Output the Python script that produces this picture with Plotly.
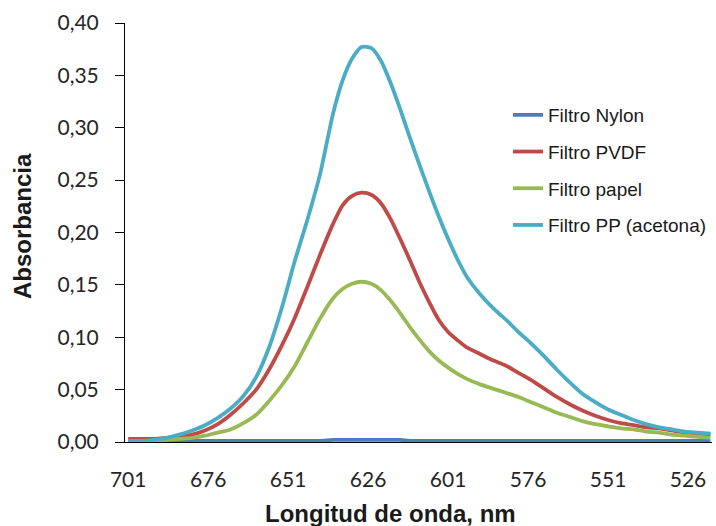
import plotly.graph_objects as go

wavelength = [701, 697, 693, 689, 685, 681, 677, 673, 669, 665, 661, 657, 653, 649, 645, 641, 637,
              634, 631, 628, 625, 622, 619, 616, 613, 610, 607, 604, 601, 598, 595,
              591, 587, 583, 579, 575, 571, 567, 563, 559, 555, 551, 547, 543, 539, 535, 531, 527, 523, 519]

nylon = [0.001, 0.001, 0.001, 0.001, 0.001, 0.001, 0.001, 0.001, 0.001, 0.001, 0.001, 0.001, 0.001,
         0.001, 0.001, 0.001, 0.002, 0.002, 0.002, 0.002, 0.002, 0.002, 0.002, 0.002, 0.001, 0.001,
         0.001, 0.001, 0.001, 0.001, 0.001, 0.001, 0.001, 0.001, 0.001, 0.001, 0.001, 0.001, 0.001,
         0.001, 0.001, 0.001, 0.001, 0.001, 0.001, 0.001, 0.001, 0.001, 0.001, 0.001]

pvdf = [0.003, 0.003, 0.003, 0.004, 0.005, 0.007, 0.011, 0.017, 0.026, 0.037, 0.050, 0.069, 0.092,
        0.118, 0.148, 0.179, 0.208,
        0.226, 0.235, 0.238, 0.236, 0.228, 0.213, 0.194, 0.174, 0.153, 0.134, 0.117, 0.105, 0.097, 0.090,
        0.084, 0.078, 0.073, 0.066, 0.059, 0.051, 0.043, 0.036, 0.030, 0.025, 0.021, 0.018, 0.016,
        0.014, 0.013, 0.011, 0.009, 0.008, 0.007]

papel = [0.000, 0.000, 0.001, 0.002, 0.003, 0.004, 0.006, 0.009, 0.012, 0.018, 0.026, 0.039, 0.054,
         0.072, 0.095, 0.118, 0.137,
         0.146, 0.151, 0.153, 0.151, 0.145, 0.135, 0.123, 0.110, 0.098, 0.087, 0.078, 0.071, 0.065, 0.060,
         0.055, 0.051, 0.047, 0.043, 0.038, 0.033, 0.028, 0.024, 0.020, 0.017, 0.015, 0.013, 0.012,
         0.010, 0.009, 0.007, 0.006, 0.005, 0.004]

pp_acetona = [0.001, 0.001, 0.002, 0.004, 0.007, 0.011, 0.016, 0.023, 0.032, 0.044, 0.062, 0.090, 0.128,
              0.172, 0.212, 0.256, 0.313,
              0.345, 0.366, 0.377, 0.376, 0.364, 0.343, 0.318, 0.291, 0.265, 0.240, 0.216, 0.194, 0.174, 0.157,
              0.141, 0.128, 0.117, 0.105, 0.094, 0.082, 0.069, 0.057, 0.046, 0.038, 0.031, 0.026, 0.021,
              0.017, 0.014, 0.012, 0.010, 0.009, 0.008]

series_names = ["Filtro Nylon", "Filtro PVDF", "Filtro papel", "Filtro PP (acetona)"]
series_values = [nylon, pvdf, papel, pp_acetona]
series_colors = ["#4A7EBB", "#BE4B48", "#98B954", "#4BACC6"]

x_ticks = [701, 676, 651, 626, 601, 576, 551, 526]
y_ticks = [0, 0.05, 0.10, 0.15, 0.20, 0.25, 0.30, 0.35, 0.40]

fig = go.Figure()
for name, vals, col in zip(series_names, series_values, series_colors):
    fig.add_trace(go.Scatter(
        x=wavelength, y=vals, name=name, mode="lines", legendgroup=name,
        line=dict(color=col, width=3.8, shape="spline", smoothing=0.7),
    ))

title_font = dict(family="Liberation Sans, Arial", size=24, color="#1a1a1a")

fig.update_layout(
    width=716, height=526,
    margin=dict(l=125, r=4, t=23, b=84),
    paper_bgcolor="white", plot_bgcolor="white",
    separators=",.",
    showlegend=True,
    legend=dict(
        x=(508 - 125) / 587, xanchor="left",
        y=1 - (96 - 23) / 419, yanchor="top",
        font=dict(family="Liberation Sans, Arial", size=19, color="#1a1a1a"),
        tracegroupgap=9, bgcolor="rgba(0,0,0,0)",
    ),
    xaxis=dict(
        range=[702, 518.5], tickmode="array", tickvals=x_ticks,
        ticks="", showline=True, linecolor="black", linewidth=1,
        showgrid=False, zeroline=False, ticklabelstandoff=19,
        tickfont=dict(family="Lato", size=21, color="#262626"),
    ),
    yaxis=dict(
        range=[0, 0.4], tickmode="array", tickvals=y_ticks, tickformat=".2f",
        ticks="outside", ticklen=9, tickcolor="black", showline=True, linecolor="black",
        linewidth=1, showgrid=False, zeroline=False, ticklabelstandoff=12,
        tickfont=dict(family="Lato", size=21, color="#262626"),
    ),
    annotations=[
        dict(text="<b>Longitud de onda, nm</b>", xref="paper", yref="paper",
             x=(390.5 - 125) / 587, y=(442 - 513) / 419, xanchor="center", yanchor="middle",
             showarrow=False, font=title_font),
        dict(text="<b>Absorbancia</b>", xref="paper", yref="paper", textangle=-90,
             x=(23 - 125) / 587, y=(442 - 226) / 419, xanchor="center", yanchor="middle",
             showarrow=False, font=title_font),
    ],
)

fig.write_html("out.html")
